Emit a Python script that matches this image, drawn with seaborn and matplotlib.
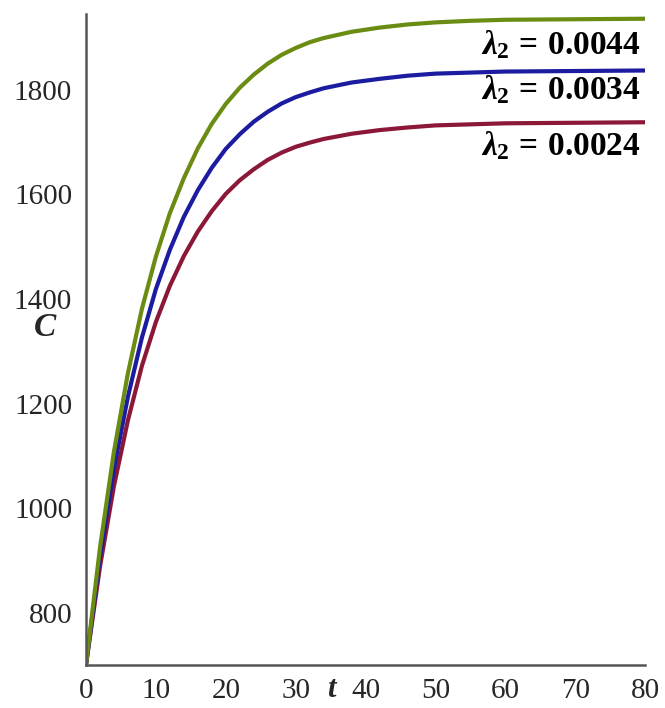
import numpy as np
import pandas as pd
import matplotlib
matplotlib.use("Agg")
import matplotlib.pyplot as plt
import seaborn as sns

# values
t = [0, 2, 4, 6, 8, 10, 12, 14, 16, 18, 20, 22, 24, 26, 28, 30, 32, 34,
     38, 42, 46, 50, 55, 60, 70, 80]
c_0044 = [700, 924, 1108, 1258, 1381, 1481, 1564, 1631, 1688, 1735, 1773, 1804,
          1829, 1850, 1867, 1880, 1891, 1899, 1911, 1919, 1925, 1929, 1932,
          1934, 1935, 1936]
c_0034 = [700, 906, 1075, 1213, 1326, 1419, 1494, 1557, 1608, 1651, 1687, 1715,
          1739, 1758, 1774, 1786, 1795, 1803, 1814, 1821, 1827, 1831, 1833,
          1835, 1836, 1837]
c_0024 = [700, 888, 1042, 1168, 1272, 1356, 1425, 1482, 1529, 1568, 1601, 1627,
          1648, 1666, 1680, 1691, 1699, 1706, 1716, 1723, 1728, 1732, 1734,
          1736, 1737, 1738]
labels = ["0.0044", "0.0034", "0.0024"]
colors = ["#6b8c12", "#1c1ca0", "#8c1838"]
xticks = [0, 10, 20, 30, 40, 50, 60, 70, 80]
yticks = [800, 1000, 1200, 1400, 1600, 1800]

df = pd.concat([
    pd.DataFrame({"t": t, "C": c, "lam": lab})
    for c, lab in zip([c_0044, c_0034, c_0024], labels)
], ignore_index=True)

sns.set_style("white")
plt.rcParams["font.family"] = ["Liberation Serif", "DejaVu Serif"]
plt.rcParams["mathtext.fontset"] = "custom"
plt.rcParams["mathtext.rm"] = "Liberation Serif:bold"
plt.rcParams["mathtext.it"] = "Liberation Serif:italic:bold"
plt.rcParams["mathtext.bf"] = "Liberation Serif:bold"

fig = plt.figure(figsize=(6.65, 7.08), dpi=100)
ax = fig.add_axes([0.1293, 0.0607, 0.8407, 0.9195])

# draw in reverse so green ends up on top
sns.lineplot(data=df, x="t", y="C", hue="lam", hue_order=labels[::-1],
             palette=colors[::-1], linewidth=3, legend=False, ax=ax,
             sort=False)

ax.set_xlim(0, 80)
ax.set_ylim(700, 1945)
ax.set_xticks(xticks)
ax.set_yticks(yticks)
ax.tick_params(labelsize=21, length=3, width=1, color="#888888",
               direction="out", pad=6)
ax.tick_params(axis="y", pad=7)
for s in ["top", "right"]:
    ax.spines[s].set_visible(False)
for s in ["left", "bottom"]:
    ax.spines[s].set_color("#555555")
    ax.spines[s].set_linewidth(1.8)

ax.set_xlabel("")
ax.set_ylabel("")
ax.text(-0.072, 0.518, "$C$", transform=ax.transAxes, fontsize=24,
        ha="center", va="center")
ax.text(0.442, -0.038, "$t$", transform=ax.transAxes, fontsize=22,
        ha="center", va="center")

label_y = [0.952, 0.883, 0.798]
for lab, yy in zip(labels, label_y):
    ax.text(0.992, yy, r"$\lambda_2 \,=\, %s$" % lab, transform=ax.transAxes,
            fontsize=24, ha="right", va="center", color="black")

fig.savefig("out.png", dpi=100)
